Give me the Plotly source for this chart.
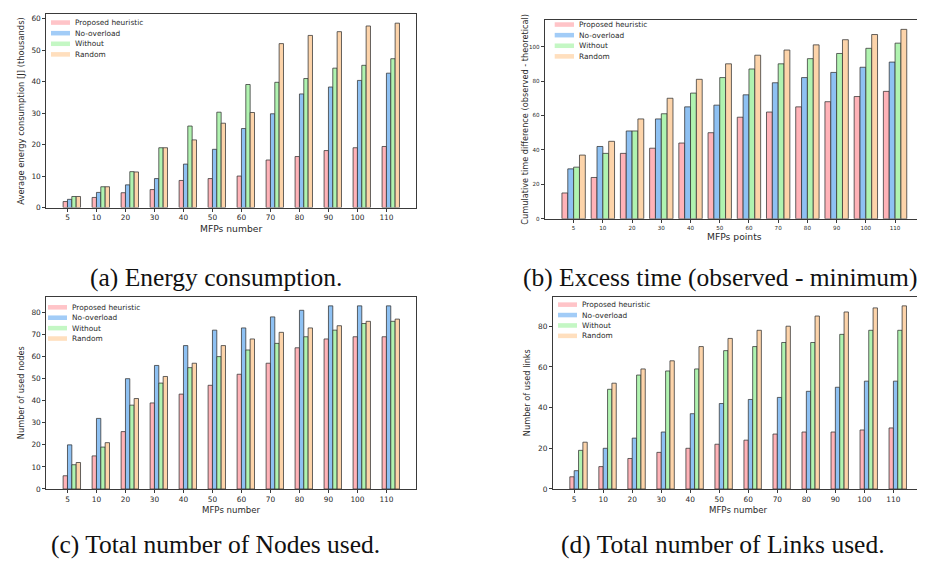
import plotly.graph_objects as go

W, H = 925, 563

# ---------------- data ----------------
mfps = ["5", "10", "20", "30", "40", "50", "60", "70", "80", "90", "100", "110"]
series_names = ["Proposed heuristic", "No-overload", "Without", "Random"]

# (a) Average energy consumption [J] (thousands)
energy_proposed = [1.9, 3.2, 4.7, 5.7, 8.6, 9.2, 10.0, 15.1, 16.2, 18.1, 19.0, 19.4]
energy_nooverload = [2.6, 4.8, 7.2, 9.2, 13.8, 18.5, 25.1, 29.8, 36.1, 38.3, 40.4, 42.7]
energy_without = [3.5, 6.6, 11.4, 19.0, 25.9, 30.3, 39.1, 39.8, 41.0, 44.3, 45.2, 47.3]
energy_random = [3.5, 6.6, 11.3, 19.0, 21.5, 26.8, 30.2, 52.1, 54.7, 55.9, 57.7, 58.6]

# (b) Cumulative time difference
time_proposed = [15, 24, 38, 41, 44, 50, 59, 62, 65, 68, 71, 74]
time_nooverload = [29, 42, 51, 58, 65, 66, 72, 79, 82, 85, 88, 91]
time_without = [30, 38, 51, 61, 73, 82, 87, 90, 93, 96, 99, 102]
time_random = [37, 45, 58, 70, 81, 90, 95, 98, 101, 104, 107, 110]

# (c) Number of used nodes
nodes_proposed = [6, 15, 26, 39, 43, 47, 52, 57, 64, 68, 69, 69]
nodes_nooverload = [20, 32, 50, 56, 65, 72, 73, 78, 81, 83, 83, 83]
nodes_without = [11, 19, 38, 48, 55, 60, 63, 66, 69, 72, 75, 76]
nodes_random = [12, 21, 41, 51, 57, 65, 68, 71, 73, 74, 76, 77]

# (d) Number of used links
links_proposed = [6, 11, 15, 18, 20, 22, 24, 27, 28, 28, 29, 30]
links_nooverload = [9, 20, 25, 28, 37, 42, 44, 45, 48, 50, 53, 53]
links_without = [19, 49, 56, 58, 59, 68, 70, 72, 72, 76, 78, 78]
links_random = [23, 52, 59, 63, 70, 74, 78, 80, 85, 87, 89, 90]

# ---------------- style ----------------
bar_colors = ["#FFB3B8", "#8EC1F3", "#B0F3B0", "#FDD4AA"]
patch_colors = ["#FFC4C8", "#A2CCF7", "#C4F7C4", "#FFDFBE"]
edge_color = "rgba(50,50,50,0.75)"
spine_color = "#3a3a3a"
text_color = "#2a2a2a"
sans = "DejaVu Sans"
serif = "Liberation Serif"


def fx(x):
    return x / W


def fy(y):
    return 1 - y / H


panels = [
    dict(ax="", series=[energy_proposed, energy_nooverload, energy_without, energy_random],
         dom_x=(38.3, 408.3), dom_y=(6, 201.3), width=0.15, off0=-0.15, xr=(-0.73, 12.03),
         dtick=10, tickfont=7.4,
         xlabel="MFPs number", xlab_y=222.5, xlab_size=9.2,
         ylabel="Average energy consumption [J] (thousands)", ylab_x=13.0, ylab_size=8.4,
         leg=dict(px0=43.0, px1=62.0, tx=65.0, y0=14.7, dy=10.7),
         caption="(a) Energy consumption.", cap_x=207.5, cap_y=272.0),
    dict(ax="2", series=[time_proposed, time_nooverload, time_without, time_random],
         dom_x=(536.7, 916.0), dom_y=(12.0, 212.7), width=0.2, off0=-0.4, xr=(-0.99, 11.99),
         dtick=20, tickfont=5.6,
         xlabel="MFPs points", xlab_y=231.0, xlab_size=9.2,
         ylabel="Cumulative time difference (observed - theoretical)", ylab_x=517.3, ylab_size=8.2,
         leg=dict(px0=546.7, px1=566.0, tx=569.0, y0=16.7, dy=10.7),
         caption="(b) Excess time (observed - minimum).", cap_x=715.0, cap_y=272.0),
    dict(ax="3", series=[nodes_proposed, nodes_nooverload, nodes_without, nodes_random],
         dom_x=(38.3, 408.3), dom_y=(291.3, 485.3), width=0.15, off0=-0.15, xr=(-0.73, 12.03),
         dtick=10, tickfont=7.4,
         xlabel="MFPs number", xlab_y=506.5, xlab_size=8.6,
         ylabel="Number of used nodes", ylab_x=13.3, ylab_size=8.2,
         leg=dict(px0=40.0, px1=59.0, tx=61.7, y0=302.0, dy=10.5),
         caption="(c) Total number of Nodes used.", cap_x=207.5, cap_y=541.0),
    dict(ax="4", series=[links_proposed, links_nooverload, links_without, links_random],
         dom_x=(545.0, 915.3), dom_y=(291.3, 485.3), width=0.15, off0=-0.15, xr=(-0.73, 12.03),
         dtick=20, tickfont=7.4,
         xlabel="MFPs number", xlab_y=506.5, xlab_size=8.6,
         ylabel="Number of used links", ylab_x=519.3, ylab_size=8.2,
         leg=dict(px0=550.0, px1=569.0, tx=571.7, y0=299.3, dy=10.5),
         caption="(d) Total number of Links used.", cap_x=715.0, cap_y=541.0),
]

fig = go.Figure()
layout = dict(
    width=W, height=H,
    margin=dict(l=0, r=0, t=0, b=0),
    paper_bgcolor="white", plot_bgcolor="white",
    barmode="overlay", showlegend=False,
    font=dict(family=sans, color=text_color),
)
shapes = []
annotations = []

for p in panels:
    ax = p["ax"]
    xa = "x" + ax
    ya = "y" + ax
    ymax = max(max(s) for s in p["series"]) * 1.05
    for k, (name, vals) in enumerate(zip(series_names, p["series"])):
        fig.add_trace(go.Bar(
            x=mfps, y=vals, name=name,
            width=p["width"], offset=p["off0"] + k * p["width"],
            marker=dict(color=bar_colors[k], line=dict(color=edge_color, width=1)),
            xaxis=xa, yaxis=ya, showlegend=False,
        ))
    axis_common = dict(showline=True, mirror=True, linecolor=spine_color, linewidth=1,
                       ticks="outside", ticklen=3, tickwidth=1, tickcolor=spine_color,
                       showgrid=False, zeroline=False,
                       tickfont=dict(family=sans, size=p["tickfont"], color=text_color))
    layout["xaxis" + ax] = dict(
        axis_common, type="category", range=list(p["xr"]),
        domain=[fx(p["dom_x"][0]), fx(p["dom_x"][1])],
        anchor=ya,
    )
    layout["yaxis" + ax] = dict(
        axis_common, range=[0, ymax], tick0=0, dtick=p["dtick"],
        domain=[fy(p["dom_y"][1]), fy(p["dom_y"][0])],
        anchor=xa,
    )
    # axis titles
    annotations.append(dict(
        text=p["xlabel"], xref="paper", yref="paper",
        x=fx((p["dom_x"][0] + p["dom_x"][1]) / 2), y=fy(p["xlab_y"]),
        xanchor="center", yanchor="middle", showarrow=False,
        font=dict(family=sans, size=p["xlab_size"], color=text_color)))
    annotations.append(dict(
        text=p["ylabel"], xref="paper", yref="paper",
        x=fx(p["ylab_x"]), y=fy((p["dom_y"][0] + p["dom_y"][1]) / 2),
        xanchor="center", yanchor="middle", textangle=-90, showarrow=False,
        font=dict(family=sans, size=p["ylab_size"], color=text_color)))
    # legend (drawn as patches + text)
    lg = p["leg"]
    for k, name in enumerate(series_names):
        yc = lg["y0"] + k * lg["dy"]
        shapes.append(dict(
            type="rect", xref="paper", yref="paper",
            x0=fx(lg["px0"]), x1=fx(lg["px1"]), y0=fy(yc + 2.3), y1=fy(yc - 2.3),
            fillcolor=patch_colors[k], line=dict(width=0), layer="above"))
        annotations.append(dict(
            text=name, xref="paper", yref="paper",
            x=fx(lg["tx"]), y=fy(yc), xanchor="left", yanchor="middle", showarrow=False,
            font=dict(family=sans, size=7.4, color=text_color)))
    # caption
    annotations.append(dict(
        text=p["caption"], xref="paper", yref="paper",
        x=fx(p["cap_x"]), y=fy(p["cap_y"]), xanchor="center", yanchor="middle",
        showarrow=False, font=dict(family=serif, size=25.5, color="#111111")))

layout["shapes"] = shapes
layout["annotations"] = annotations
fig.update_layout(**layout)
fig.write_html("out.html")
